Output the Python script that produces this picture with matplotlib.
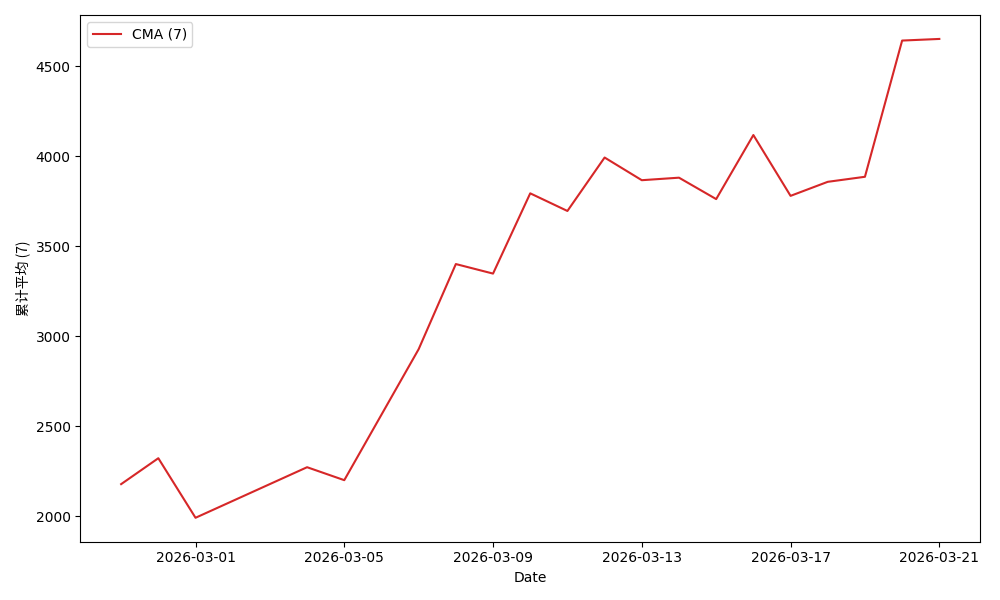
import matplotlib
matplotlib.use("Agg")
import matplotlib.pyplot as plt
import matplotlib.dates as mdates
import pandas as pd

# fechas y valores
fechas = ["2026-02-27", "2026-02-28", "2026-03-01", "2026-03-04", "2026-03-05",
          "2026-03-07", "2026-03-08", "2026-03-09", "2026-03-10", "2026-03-11",
          "2026-03-12", "2026-03-13", "2026-03-14", "2026-03-15", "2026-03-16",
          "2026-03-17", "2026-03-18", "2026-03-19", "2026-03-20", "2026-03-21"]
cma = [2178, 2322, 1991, 2272, 2200,
       2928, 3401, 3348, 3794, 3696,
       3993, 3867, 3881, 3762, 4118,
       3780, 3858, 3886, 4643, 4652]

x = pd.to_datetime(fechas)

fig, ax = plt.subplots(figsize=(10, 6), dpi=100)
ax.plot(x, cma, color="#d62728", label="CMA (7)")

ax.xaxis.set_major_locator(mdates.DayLocator(bymonthday=[1, 5, 9, 13, 17, 21]))
ax.xaxis.set_major_formatter(mdates.DateFormatter("%Y-%m-%d"))

ax.set_xlabel("Date")
ax.set_ylabel("累计平均 (7)", family=["Noto Sans CJK SC", "DejaVu Sans"])
ax.legend(loc="upper left")

plt.tight_layout()
plt.savefig("out.png")
